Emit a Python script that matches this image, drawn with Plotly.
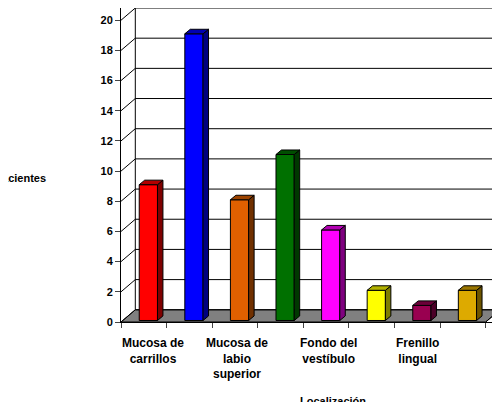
import plotly.graph_objects as go

# datos
valores = [9, 19, 8, 11, 6, 2, 1, 2]
colores = ["#FF0000", "#0000FF", "#E06000", "#007000", "#FF00FF", "#FFFF00", "#990050", "#DDAA00"]
etiquetas = ["Mucosa de<br>carrillos", "Mucosa de<br>labio<br>superior", "Fondo del<br>vestíbulo", "Frenillo<br>lingual"]
pos_etiquetas = [0.7, 2.55, 4.55, 6.5]
ticks_y = list(range(0, 21, 2))

n = len(valores)
dx, dy = 0.314, 0.81      # profundidad del "3D"
bw, bdx, bdy = 0.4, 0.12, 0.3

def oscuro(c, f=0.5):
    r, g, b = int(c[1:3], 16), int(c[3:5], 16), int(c[5:7], 16)
    return "rgb({},{},{})".format(int(r * f), int(g * f), int(b * f))

fig = go.Figure()
for i, (v, c) in enumerate(zip(valores, colores)):
    x0 = i + 0.5 - bw / 2 + 0.1
    x1 = x0 + bw
    y0, y1 = 0.1, v + 0.1
    caras = [
        ([x0, x1, x1, x0, x0], [y0, y0, y1, y1, y0], c),
        ([x1, x1 + bdx, x1 + bdx, x1, x1], [y0, y0 + bdy, y1 + bdy, y1, y0], oscuro(c)),
        ([x0, x1, x1 + bdx, x0 + bdx, x0], [y1, y1, y1 + bdy, y1 + bdy, y1], oscuro(c, 0.7)),
    ]
    for xs, ys, col in caras:
        fig.add_trace(go.Scatter(x=xs, y=ys, fill="toself", fillcolor=col, mode="lines",
                                 line=dict(color="black", width=1), hoverinfo="skip"))

shapes = []
# suelo gris
shapes.append(dict(type="path", path="M 0 0 L {} 0 L {} {} L {} {} Z".format(n, n + dx, dy, dx, dy),
                   fillcolor="#808080", line=dict(color="black", width=1), layer="below"))
# pared del fondo y líneas de cuadrícula
for t in ticks_y:
    shapes.append(dict(type="line", x0=dx, x1=n + dx, y0=t + dy, y1=t + dy, line=dict(color="black", width=1), layer="below"))
    shapes.append(dict(type="line", x0=0, x1=dx, y0=t, y1=t + dy, line=dict(color="black", width=1), layer="below"))
shapes.append(dict(type="line", x0=dx, x1=dx, y0=dy, y1=20 + dy, line=dict(color="black", width=1), layer="below"))
shapes.append(dict(type="line", x0=n + dx, x1=n + dx, y0=dy, y1=20 + dy, line=dict(color="black", width=1), layer="below"))
shapes.append(dict(type="line", x0=n, x1=n + dx, y0=0, y1=dy, line=dict(color="black", width=1), layer="below"))

anots = [dict(x=p, y=0, xref="x", yref="y", text="<b>{}</b>".format(t), showarrow=False,
              yanchor="top", yshift=-12, font=dict(size=12)) for p, t in zip(pos_etiquetas, etiquetas)]
anots.append(dict(x=-0.42, y=0.46, xref="paper", yref="paper", text="<b>N° de pacientes</b>",
                  showarrow=False, xanchor="left", font=dict(size=11)))
anots.append(dict(x=0.56, y=-0.225, xref="paper", yref="paper", text="<b>Localización</b>",
                  showarrow=False, yanchor="top", font=dict(size=11)))

fig.update_layout(
    width=492, height=394, showlegend=False,
    margin=dict(l=113, r=0, t=0, b=80),
    plot_bgcolor="white", paper_bgcolor="white",
    font=dict(family="Liberation Sans, Arial", color="black", size=11),
    shapes=shapes, annotations=anots,
)
fig.update_xaxes(range=[0, n + dx], tickvals=list(range(n + 1)), showticklabels=False,
                 ticks="outside", ticklen=5, showgrid=False, zeroline=False,
                 showline=True, linecolor="black", fixedrange=True)
fig.update_yaxes(range=[0, 20 + dy], tickvals=ticks_y, ticktext=["<b>{}</b>".format(t) for t in ticks_y],
                 ticks="outside", ticklen=5, showgrid=False, zeroline=False,
                 showline=True, linecolor="black", fixedrange=True)

fig.write_html("out.html")
